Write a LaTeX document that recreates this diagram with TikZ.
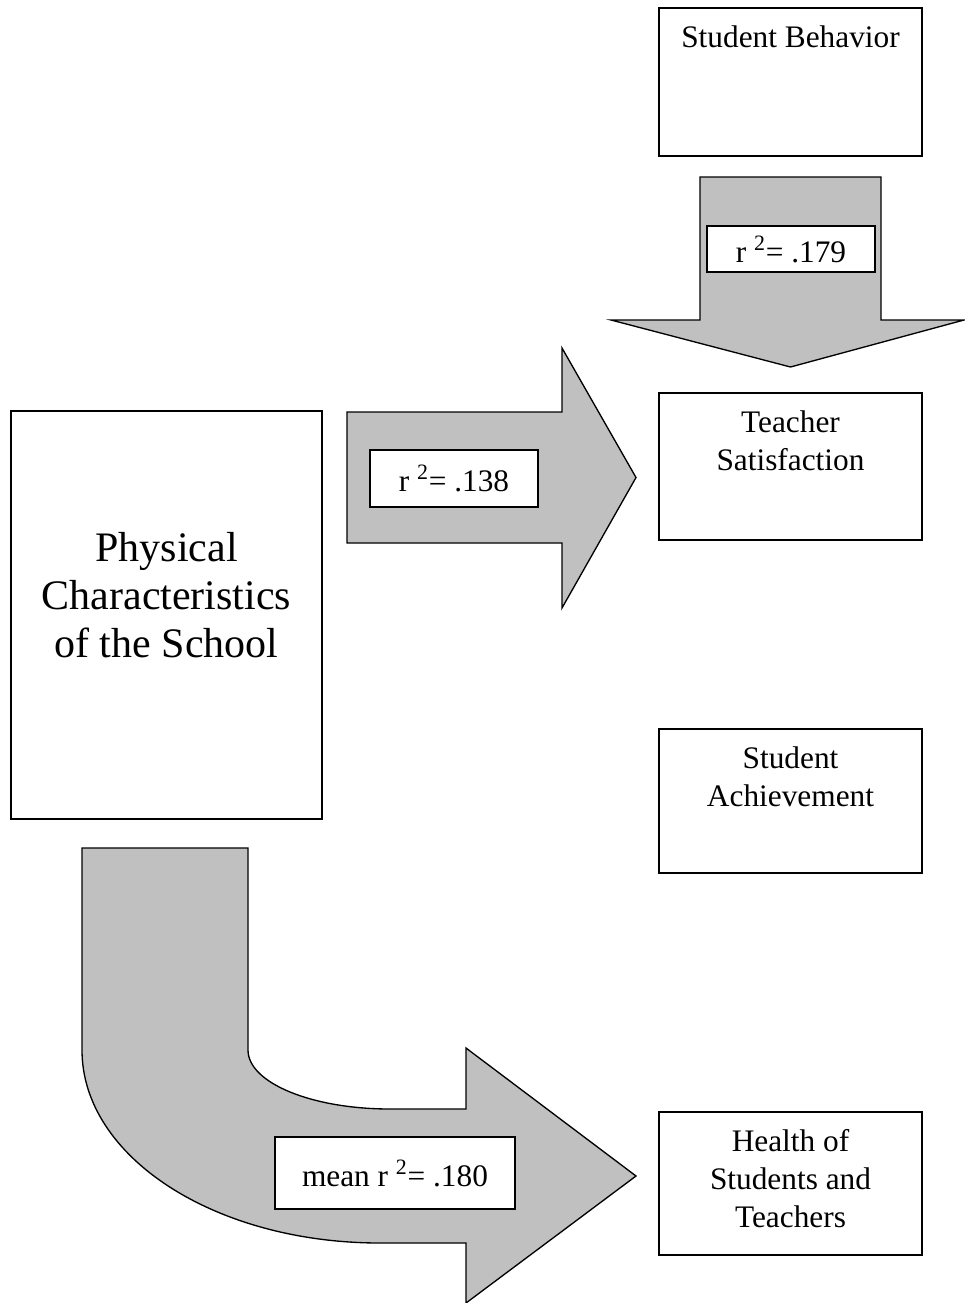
\documentclass[tikz,border=0pt]{standalone}
\usepackage{fontspec}
\setmainfont{Liberation Serif}

\begin{document}
\begin{tikzpicture}[x=0.75pt,y=-0.75pt,
		box/.style={draw=black,line width=1.4pt,inner sep=0pt,outer sep=0pt,minimum width=197.25pt},
		txt/.style={align=center,inner sep=0pt,anchor=north,font=\fontsize{23.5}{28.5}\selectfont},
		rlabel/.style={draw=black,fill=white,line width=1.4pt,inner sep=0pt,font=\fontsize{23.5}{28.5}\selectfont},
		bigarrow/.style={draw=black,fill=arrowgray,line width=1pt,line join=miter}]
		\definecolor{arrowgray}{RGB}{192,192,192}
		\useasboundingbox (0,0) rectangle (964,1303);

		\node[box,minimum height=111pt] (behav) at (790.5,82) {};
		\node[box,minimum height=110.25pt] (satis) at (790.5,466.5) {};
		\node[box,minimum height=108pt] (achieve) at (790.5,801) {};
		\node[box,minimum height=107.25pt] (health) at (790.5,1183.5) {};
		\node[box,minimum width=233.25pt,minimum height=306pt] (phys) at (166.5,615) {};

		\node[txt] (behavtxt) at ([yshift=-13pt]behav.north) {Student Behavior};
		\node[txt] (satistxt) at ([yshift=-13pt]satis.north) {Teacher\\Satisfaction};
		\node[txt] (achievetxt) at ([yshift=-13pt]achieve.north) {Student\\Achievement};
		\node[txt] (healthtxt) at ([yshift=-13pt]health.north) {Health of\\Students and\\Teachers};
		\node[align=center,inner sep=0pt,font=\fontsize{31.5}{36}\selectfont] (phystxt) at ([yshift=15pt]phys.center) {Physical\\Characteristics\\of the School};

		\draw[bigarrow] (700,177) -- (881,177) -- (881,320) -- (964,320) -- (790.5,367)
			-- (611,320) -- (700,320) -- cycle;
		\draw[bigarrow] (347,412) -- (562,412) -- (562,348) -- (636,477.5) -- (562,608)
			-- (562,543) -- (347,543) -- cycle;
		\draw[bigarrow] (82,848) -- (82,1050) .. controls (82,1157) and (215,1243) .. (380,1243)
			-- (466,1243) -- (466,1303) -- (636,1176) -- (466,1048) -- (466,1109) -- (390,1109)
			.. controls (312,1109) and (248,1083) .. (248,1050) -- (248,848) -- cycle;

		\node[rlabel,minimum width=126pt,minimum height=34.5pt] (r179) at (791,249) {r \textsuperscript{2}= .179};
		\node[rlabel,minimum width=126pt,minimum height=42.75pt] (r138) at (454,478.5) {r \textsuperscript{2}= .138};
		\node[rlabel,minimum width=180pt,minimum height=54pt] (r180) at (395,1173) {mean r \textsuperscript{2}= .180};
	\end{tikzpicture}
\end{document}
